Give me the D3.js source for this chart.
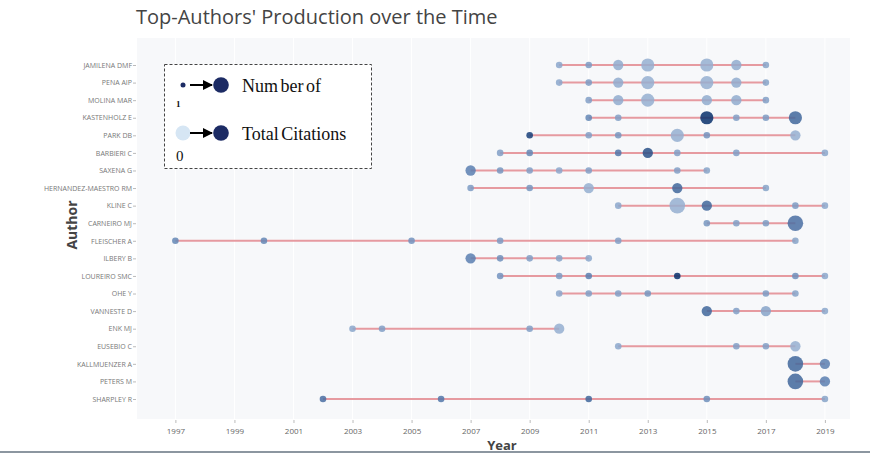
<!DOCTYPE html>
<html>
<head>
<meta charset="utf-8">
<script src="https://cdn.jsdelivr.net/npm/d3@7"></script>
<style>
  body { margin: 0; background: #fff; }
  text { font-family: "Open Sans", sans-serif; }
  text.serif { font-family: "Liberation Serif", "Times New Roman", serif; }
</style>
</head>
<body>
<script>
var width = 870,
    height = 456;

// authors, top to bottom
var authors = ["JAMILENA DMF", "PENA AIP", "MOLINA MAR", "KASTENHOLZ E", "PARK DB",
  "BARBIERI C", "SAXENA G", "HERNANDEZ-MAESTRO RM", "KLINE C", "CARNEIRO MJ",
  "FLEISCHER A", "ILBERY B", "LOUREIRO SMC", "OHE Y", "VANNESTE D",
  "ENK MJ", "EUSEBIO C", "KALLMUENZER A", "PETERS M", "SHARPLEY R"];

// publication years per author
var years = [
  [2010, 2011, 2012, 2013, 2015, 2016, 2017],
  [2010, 2011, 2012, 2013, 2015, 2016, 2017],
  [2011, 2012, 2013, 2015, 2016, 2017],
  [2011, 2012, 2015, 2016, 2017, 2018],
  [2009, 2011, 2012, 2014, 2015, 2018],
  [2008, 2009, 2012, 2013, 2014, 2016, 2019],
  [2007, 2008, 2009, 2010, 2011, 2014, 2015],
  [2007, 2009, 2011, 2014, 2017],
  [2012, 2014, 2015, 2018, 2019],
  [2015, 2016, 2017, 2018],
  [1997, 2000, 2005, 2008, 2012, 2018],
  [2007, 2008, 2009, 2010, 2011],
  [2008, 2010, 2011, 2014, 2018, 2019],
  [2010, 2011, 2012, 2013, 2017, 2018],
  [2015, 2016, 2017, 2019],
  [2003, 2004, 2009, 2010],
  [2012, 2016, 2017, 2018],
  [2018, 2019],
  [2018, 2019],
  [2002, 2006, 2011, 2015, 2019]
];

// number of articles (point size)
var articles = [
  [1, 1, 2, 3, 3, 2, 1],
  [1, 1, 2, 3, 3, 2, 1],
  [1, 2, 3, 2, 2, 1],
  [1, 1, 3, 1, 1, 3],
  [1, 1, 1, 3, 1, 2],
  [1, 1, 1, 2, 1, 1, 1],
  [2, 1, 1, 1, 1, 1, 1],
  [1, 1, 2, 2, 1],
  [1, 4, 2, 1, 1],
  [1, 1, 1, 4],
  [1, 1, 1, 1, 1, 1],
  [2, 1, 1, 1, 1],
  [1, 1, 1, 1, 1, 1],
  [1, 1, 1, 1, 1, 1],
  [2, 1, 2, 1],
  [1, 1, 1, 2],
  [1, 1, 1, 2],
  [4, 2],
  [4, 2],
  [1, 1, 1, 1, 1]
];

// total citations per year (point colour)
var citations = [
  [10, 13, 9, 8, 8, 9, 11],
  [10, 13, 9, 8, 8, 9, 11],
  [12, 9, 8, 9, 9, 12],
  [18, 12, 40, 12, 13, 26],
  [36, 12, 14, 8, 15, 8],
  [12, 18, 22, 32, 12, 12, 10],
  [20, 14, 12, 10, 12, 12, 11],
  [13, 14, 8, 26, 11],
  [10, 8, 26, 13, 10],
  [14, 12, 13, 24],
  [18, 18, 15, 13, 12, 11],
  [20, 16, 12, 11, 10],
  [15, 13, 20, 40, 16, 10],
  [10, 12, 12, 14, 13, 11],
  [26, 12, 11, 10],
  [10, 12, 12, 8],
  [10, 12, 12, 8],
  [26, 20],
  [26, 20],
  [24, 22, 26, 16, 11]
];

var tickYears = d3.range(1997, 2020, 2);

var plot = { left: 137, right: 850, top: 38, bottom: 419 };

var x = d3.scaleLinear()
    .domain([1995.7, 2019.85])
    .range([plot.left, plot.right]);

var y = d3.scalePoint()
    .domain(authors)
    .range([65, 399]);

var size = d3.scaleSqrt()
    .domain([1, 4])
    .range([3.3, 7.8]);

var color = d3.scaleLinear()
    .domain([0, 20, 40])
    .range(["#bccfe6", "#5a7fb0", "#08306b"]);

var points = [];
authors.forEach(function(a, i) {
  years[i].forEach(function(yr, j) {
    points.push({ author: a, year: yr, n: articles[i][j], tc: citations[i][j] });
  });
});

var svg = d3.select("body").append("svg")
    .attr("width", width)
    .attr("height", height);

// title
svg.append("text")
    .attr("x", 136)
    .attr("y", 24)
    .attr("font-size", 20)
    .attr("fill", "#444")
    .text("Top-Authors' Production over the Time");

// plot background
svg.append("rect")
    .attr("x", plot.left)
    .attr("y", plot.top)
    .attr("width", plot.right - plot.left)
    .attr("height", plot.bottom - plot.top)
    .attr("fill", "#f7f8fa");

svg.append("g").selectAll("line")
    .data(tickYears)
    .enter().append("line")
    .attr("x1", function(d) { return x(d); })
    .attr("x2", function(d) { return x(d); })
    .attr("y1", plot.top)
    .attr("y2", plot.bottom)
    .attr("stroke", "#fff")
    .attr("stroke-width", 1);

// x axis
var xAxis = svg.append("g")
    .attr("transform", "translate(0," + (plot.bottom + 1) + ")")
    .call(d3.axisBottom(x).tickValues(tickYears).tickFormat(d3.format("d")).tickSize(3).tickPadding(5));
xAxis.select(".domain").remove();
xAxis.selectAll("line").attr("stroke", "#bbb");
xAxis.selectAll("text").attr("font-size", 8).attr("fill", "#666");

// y axis
var yAxis = svg.append("g")
    .attr("transform", "translate(" + (plot.left - 1) + ",0)")
    .call(d3.axisLeft(y).tickSize(3).tickPadding(1));
yAxis.select(".domain").remove();
yAxis.selectAll("line").attr("stroke", "#bbb");
yAxis.selectAll("text").attr("font-size", 7).attr("fill", "#777");

// axis titles
svg.append("text")
    .attr("x", 502)
    .attr("y", 450)
    .attr("text-anchor", "middle")
    .attr("font-size", 13)
    .attr("font-weight", "bold")
    .attr("fill", "#444")
    .text("Year");

svg.append("text")
    .attr("transform", "translate(77,225) rotate(-90)")
    .attr("text-anchor", "middle")
    .attr("font-size", 14)
    .attr("font-weight", "bold")
    .attr("fill", "#444")
    .text("Author");

// segments from first to last year
svg.append("g").selectAll("line")
    .data(authors)
    .enter().append("line")
    .attr("x1", function(d, i) { return x(d3.min(years[i])); })
    .attr("x2", function(d, i) { return x(d3.max(years[i])); })
    .attr("y1", function(d) { return y(d); })
    .attr("y2", function(d) { return y(d); })
    .attr("stroke", "#e69aa0")
    .attr("stroke-width", 2);

// points
svg.append("g").selectAll("circle")
    .data(points)
    .enter().append("circle")
    .attr("cx", function(d) { return x(d.year); })
    .attr("cy", function(d) { return y(d.author); })
    .attr("r", function(d) { return size(d.n); })
    .attr("fill", function(d) { return color(d.tc); })
    .attr("fill-opacity", 0.85);

// legend box
var lg = svg.append("g");
lg.append("rect")
    .attr("x", 164.5)
    .attr("y", 64.5)
    .attr("width", 207)
    .attr("height", 104)
    .attr("fill", "#fff")
    .attr("stroke", "#444")
    .attr("stroke-width", 1)
    .attr("stroke-dasharray", "3,2");

svg.append("defs").append("marker")
    .attr("id", "arrow")
    .attr("viewBox", "0 0 10 10")
    .attr("refX", 9)
    .attr("refY", 5)
    .attr("markerWidth", 5)
    .attr("markerHeight", 5)
    .attr("orient", "auto")
  .append("path")
    .attr("d", "M0,0L10,5L0,10z")
    .attr("fill", "#000");

var legendRows = [
  { y: 85, r0: 2.5, c0: "#1c2b64", label: "Num ber of", low: "1", lowSize: 9, lowY: 107 },
  { y: 133, r0: 7.5, c0: "#d6e6f4", label: "Total Citations", low: "0", lowSize: 15, lowY: 161 }
];

legendRows.forEach(function(row) {
  lg.append("circle").attr("cx", 183).attr("cy", row.y).attr("r", row.r0).attr("fill", row.c0);
  lg.append("line")
      .attr("x1", 190).attr("x2", 212)
      .attr("y1", row.y).attr("y2", row.y)
      .attr("stroke", "#000").attr("stroke-width", 2)
      .attr("marker-end", "url(#arrow)");
  lg.append("circle").attr("cx", 221).attr("cy", row.y).attr("r", 7.8).attr("fill", "#1c2b64");
  lg.append("text")
      .attr("class", "serif")
      .attr("x", 242).attr("y", row.y + 7)
      .attr("font-size", 18)
      .attr("word-spacing", -2)
      .attr("fill", "#111")
      .text(row.label);
  lg.append("text")
      .attr("class", "serif")
      .attr("x", 176).attr("y", row.lowY)
      .attr("font-size", row.lowSize)
      .attr("font-weight", row.low === "1" ? "bold" : "normal")
      .attr("fill", "#111")
      .text(row.low);
});

// bottom rule
svg.append("line")
    .attr("x1", 0).attr("x2", width)
    .attr("y1", 452).attr("y2", 452)
    .attr("stroke", "#8c96a0")
    .attr("stroke-width", 2);
</script>
</body>
</html>
